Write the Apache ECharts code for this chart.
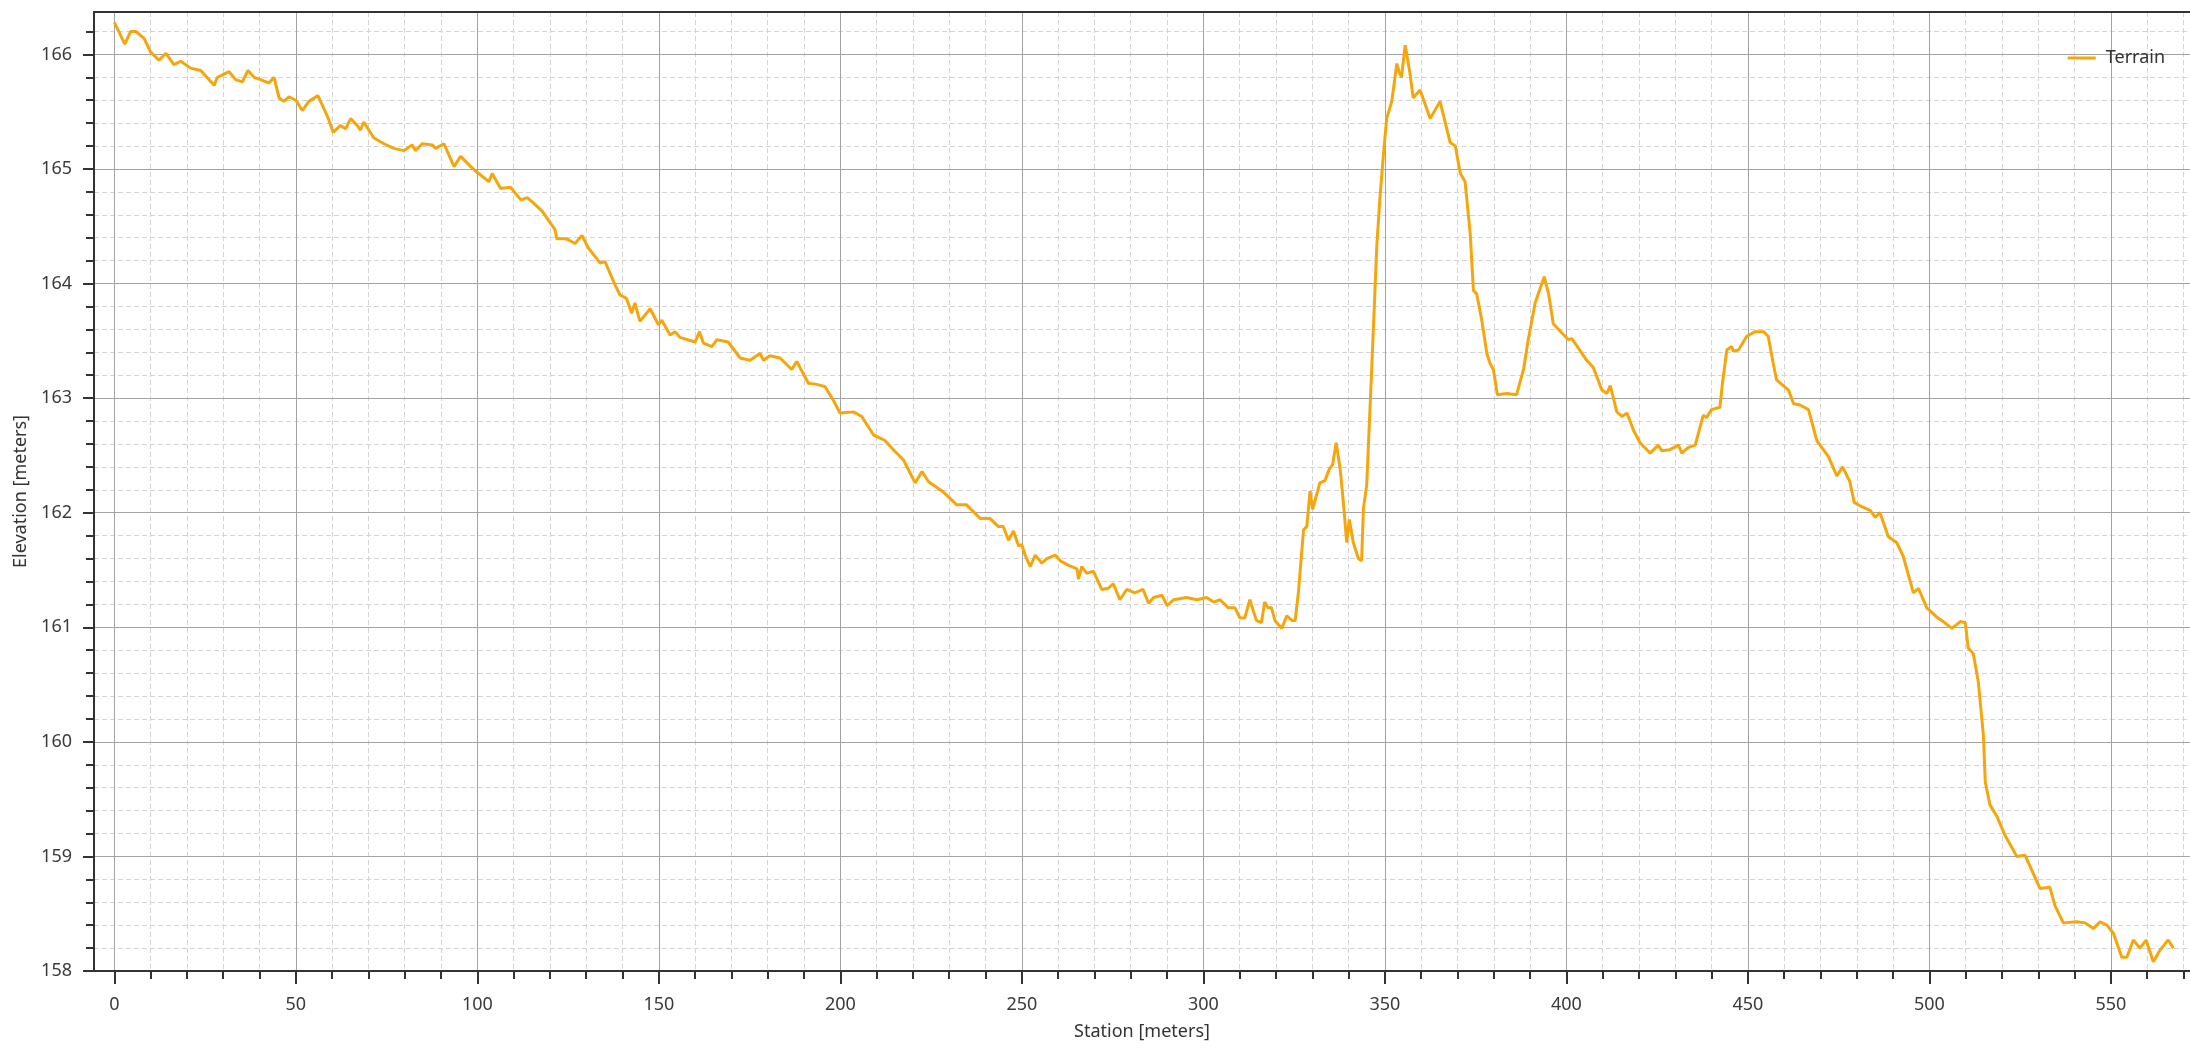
<!DOCTYPE html>
<html><head><meta charset="utf-8">
<script src="https://cdn.jsdelivr.net/npm/echarts@6/dist/echarts.min.js"></script>
<style>html,body{margin:0;padding:0;background:#fff}#c{width:2190px;height:1050px}</style>
</head><body><div id="c"></div>
<script>
const seriesName = 'Terrain';
const xAxisName = 'Station [meters]';
const yAxisName = 'Elevation [meters]';

const stations = [
  0, 2.9, 4.5, 5.9, 8.2, 10, 12.3, 14.2, 16.4, 18.3,
  21, 23.8, 27.5, 28.4, 31.6, 33.4, 35.3, 36.8, 38.5, 40.3,
  42.6, 44, 45.4, 46.7, 48.1, 50, 51.8, 53.6, 56.1, 58.7,
  60.3, 62.3, 63.7, 65.1, 66.9, 67.8, 68.7, 71.5, 74.3, 77,
  79.8, 82, 83, 84.8, 87.6, 88.5, 90.8, 93.6, 95.4, 98.2,
  99.6, 103.2, 104.1, 106.4, 109.1, 112, 113.8, 115.6, 117.9, 121.4,
  121.9, 124.6, 126.9, 128.8, 130.6, 133.8, 135.2, 137.9, 139.3, 141.1,
  142.5, 143.4, 144.8, 147.6, 149.9, 150.8, 153.1, 154.5, 155.8, 160,
  161.2, 162.3, 164.6, 166, 169.1, 172.4, 175.1, 177.9, 178.8, 180.6,
  183.4, 186.6, 188, 191.2, 193.5, 195.8, 198.1, 199.9, 203.6, 205.9,
  209.1, 212.3, 214.6, 217.4, 220.6, 222.5, 224.3, 228.4, 232, 234.7,
  238.5, 241.2, 243.5, 244.9, 246.3, 247.7, 249.1, 250, 250.9, 252.3,
  253.7, 255.5, 256.9, 259.2, 260.6, 262.9, 265.2, 265.6, 266.5, 267.9,
  269.7, 272, 273.8, 275.2, 277, 278.9, 281.1, 283.4, 284.9, 286.3,
  288.6, 290, 291.8, 295.4, 298.2, 300.9, 302.8, 304.6, 306.9, 308.7,
  310.1, 311.4, 312.8, 314.6, 316, 316.9, 317.8, 318.8, 319.7, 321.6,
  323, 324.4, 325.3, 326.2, 327.6, 328.5, 329.4, 330.1, 332.1, 333.5,
  334.7, 335.6, 336.6, 337.7, 338.6, 339.5, 340.2, 341.3, 342.7, 343.6,
  344.1, 345, 346.4, 347.8, 348.7, 349.6, 350.5, 351.9, 353.3, 354,
  354.6, 355.6, 356.9, 357.8, 359.7, 362.5, 365.2, 368, 369.4, 370.8,
  372.1, 373.5, 374.4, 375.3, 376.7, 378.1, 379, 379.9, 381, 383.6,
  386.3, 388.2, 389.5, 391.4, 393.9, 395.1, 396.4, 398.7, 400.6, 401.5,
  402.8, 405.6, 407.4, 409.8, 411.2, 412.1, 413.9, 415.3, 416.7, 418.5,
  420.3, 423.1, 425.3, 426.3, 428.5, 430.9, 431.8, 433.6, 435.5, 437.7,
  438.6, 440, 442.3, 443, 444.2, 445.5, 446, 447.4, 449.7, 452,
  454.3, 455.6, 457, 457.9, 461.2, 462.6, 464.4, 466.7, 469, 472.2,
  474.5, 476.1, 478.1, 479.3, 480.9, 483.7, 485.1, 486.4, 488.7, 491,
  492.8, 495.6, 497, 499.3, 502, 503.8, 506.2, 508.5, 509.9, 510.7,
  512.1, 513.5, 514.9, 515.4, 516.7, 518.6, 520.9, 524.1, 526.4, 528.2,
  530.5, 533.2, 534.6, 536.9, 540.6, 542.9, 545.2, 547, 548.9, 550.7,
  553, 554.4, 556.2, 558, 559.7, 561.7, 563.5, 565.8, 567.2
];

const elevations = [
  166.28, 166.09, 166.20, 166.20, 166.14, 166.02, 165.95, 166.01, 165.91, 165.94,
  165.88, 165.86, 165.73, 165.80, 165.85, 165.78, 165.76, 165.86, 165.80, 165.78,
  165.75, 165.80, 165.62, 165.59, 165.63, 165.60, 165.51, 165.59, 165.64, 165.46,
  165.32, 165.38, 165.35, 165.44, 165.38, 165.34, 165.41, 165.27, 165.22, 165.18,
  165.16, 165.21, 165.16, 165.22, 165.21, 165.18, 165.22, 165.02, 165.11, 165.02,
  164.98, 164.89, 164.96, 164.83, 164.84, 164.73, 164.75, 164.70, 164.63, 164.47,
  164.39, 164.39, 164.35, 164.42, 164.31, 164.18, 164.19, 163.99, 163.90, 163.87,
  163.74, 163.83, 163.67, 163.78, 163.64, 163.68, 163.55, 163.58, 163.53, 163.49,
  163.58, 163.48, 163.45, 163.51, 163.49, 163.35, 163.33, 163.39, 163.33, 163.37,
  163.35, 163.25, 163.32, 163.13, 163.12, 163.10, 162.98, 162.87, 162.88, 162.84,
  162.68, 162.63, 162.55, 162.46, 162.26, 162.36, 162.27, 162.18, 162.07, 162.07,
  161.95, 161.95, 161.88, 161.88, 161.76, 161.84, 161.71, 161.72, 161.63, 161.53,
  161.63, 161.56, 161.60, 161.63, 161.58, 161.54, 161.51, 161.42, 161.53, 161.47,
  161.49, 161.33, 161.34, 161.38, 161.24, 161.33, 161.30, 161.33, 161.21, 161.26,
  161.28, 161.19, 161.24, 161.26, 161.24, 161.26, 161.22, 161.24, 161.17, 161.17,
  161.08, 161.08, 161.24, 161.06, 161.04, 161.22, 161.17, 161.17, 161.06, 160.99,
  161.10, 161.06, 161.06, 161.31, 161.85, 161.88, 162.19, 162.03, 162.26, 162.28,
  162.38, 162.42, 162.61, 162.38, 162.08, 161.74, 161.94, 161.74, 161.60, 161.58,
  162.04, 162.24, 163.27, 164.34, 164.77, 165.12, 165.44, 165.59, 165.92, 165.84,
  165.80, 166.08, 165.84, 165.62, 165.69, 165.44, 165.59, 165.23, 165.20, 164.96,
  164.89, 164.44, 163.94, 163.91, 163.68, 163.39, 163.30, 163.25, 163.03, 163.04,
  163.03, 163.25, 163.51, 163.83, 164.06, 163.91, 163.65, 163.57, 163.51, 163.52,
  163.46, 163.33, 163.27, 163.07, 163.04, 163.11, 162.88, 162.84, 162.87, 162.72,
  162.61, 162.52, 162.59, 162.54, 162.55, 162.59, 162.52, 162.57, 162.59, 162.85,
  162.83, 162.90, 162.92, 163.13, 163.42, 163.45, 163.41, 163.42, 163.54, 163.58,
  163.58, 163.54, 163.30, 163.16, 163.07, 162.95, 162.94, 162.90, 162.63, 162.49,
  162.32, 162.40, 162.27, 162.09, 162.06, 162.02, 161.96, 162.00, 161.79, 161.74,
  161.62, 161.30, 161.34, 161.17, 161.09, 161.05, 160.99, 161.05, 161.04, 160.82,
  160.77, 160.52, 160.05, 159.65, 159.45, 159.35, 159.18, 159.00, 159.01, 158.88,
  158.72, 158.73, 158.57, 158.42, 158.43, 158.42, 158.37, 158.43, 158.40, 158.33,
  158.12, 158.12, 158.27, 158.20, 158.27, 158.08, 158.18, 158.27, 158.20
];

const xMajorTicks = [0, 50, 100, 150, 200, 250, 300, 350, 400, 450, 500, 550];
const xMinorTicks = [10, 20, 30, 40, 60, 70, 80, 90, 110, 120, 130, 140, 160, 170, 180, 190,
  210, 220, 230, 240, 260, 270, 280, 290, 310, 320, 330, 340, 360, 370, 380, 390,
  410, 420, 430, 440, 460, 470, 480, 490, 510, 520, 530, 540, 560, 570];
const yMajorTicks = [158, 159, 160, 161, 162, 163, 164, 165, 166];
const yMinorTicks = [158.2, 158.4, 158.6, 158.8, 159.2, 159.4, 159.6, 159.8,
  160.2, 160.4, 160.6, 160.8, 161.2, 161.4, 161.6, 161.8,
  162.2, 162.4, 162.6, 162.8, 163.2, 163.4, 163.6, 163.8,
  164.2, 164.4, 164.6, 164.8, 165.2, 165.4, 165.6, 165.8, 166.2];

const X_MIN = -5.6, X_MAX = 571.8, Y_MIN = 158, Y_MAX = 166.37;

const FONT = '"Noto Sans", "Open Sans", sans-serif';
const AXIS_COLOR = '#333333';
const LINE_COLOR = '#F5A60C';

const data = stations.map((s, i) => [s, elevations[i]]);

const chart = echarts.init(document.getElementById('c'), null, {renderer: 'canvas'});
chart.setOption({
  animation: false,
  backgroundColor: '#ffffff',
  textStyle: {fontFamily: FONT},
  grid: {left: 94, top: 12, right: 0, bottom: 79, containLabel: false},
  legend: {
    show: true,
    right: 20, top: 44,
    icon: 'rect', itemWidth: 28, itemHeight: 3,
    textStyle: {fontSize: 18, color: '#333', fontFamily: FONT, padding: [0, 0, 0, 5]},
    data: [seriesName]
  },
  xAxis: [
    {
      type: 'value', position: 'bottom', min: X_MIN, max: X_MAX,
      name: xAxisName, nameLocation: 'middle', nameGap: 52,
      nameTextStyle: {fontSize: 18, color: '#333', fontFamily: FONT},
      axisLine: {show: true, onZero: false, lineStyle: {color: AXIS_COLOR, width: 2}},
      axisTick: {show: true, inside: false, length: 13, customValues: xMajorTicks, lineStyle: {color: AXIS_COLOR, width: 2}},
      axisLabel: {show: true, margin: 25, fontSize: 18, color: '#3a3a3a', fontFamily: FONT, customValues: xMajorTicks},
      splitLine: {show: true, lineStyle: {color: '#a3a3a3', width: 1, type: 'solid'}},
      z: 3
    },
    {
      type: 'value', position: 'bottom', min: X_MIN, max: X_MAX,
      axisLine: {show: false, onZero: false},
      axisTick: {show: true, inside: false, length: 8, customValues: xMinorTicks, lineStyle: {color: AXIS_COLOR, width: 2}},
      axisLabel: {show: false},
      splitLine: {show: true, lineStyle: {color: '#d3d3d3', width: 1, type: [5, 3]}},
      z: 2
    },
    {
      type: 'value', position: 'top', min: X_MIN, max: X_MAX,
      axisLine: {show: true, onZero: false, lineStyle: {color: AXIS_COLOR, width: 2}},
      axisTick: {show: false}, axisLabel: {show: false}, splitLine: {show: false},
      z: 3
    }
  ],
  yAxis: [
    {
      type: 'value', position: 'left', min: Y_MIN, max: Y_MAX,
      name: yAxisName, nameLocation: 'middle', nameGap: 58, nameRotate: 90,
      nameTextStyle: {fontSize: 18, color: '#333', fontFamily: FONT},
      axisLine: {show: true, onZero: false, lineStyle: {color: AXIS_COLOR, width: 2}},
      axisTick: {show: true, inside: false, length: 11, customValues: yMajorTicks, lineStyle: {color: AXIS_COLOR, width: 2}},
      axisLabel: {show: true, margin: 22, fontSize: 18, color: '#3a3a3a', fontFamily: FONT, customValues: yMajorTicks},
      splitLine: {show: true, lineStyle: {color: '#a3a3a3', width: 1, type: 'solid'}},
      z: 3
    },
    {
      type: 'value', position: 'left', min: Y_MIN, max: Y_MAX,
      axisLine: {show: false, onZero: false},
      axisTick: {show: true, inside: false, length: 8, customValues: yMinorTicks, lineStyle: {color: AXIS_COLOR, width: 2}},
      axisLabel: {show: false},
      splitLine: {show: true, lineStyle: {color: '#d3d3d3', width: 1, type: [5, 3]}},
      z: 2
    }
  ],
  series: [{
    name: seriesName,
    type: 'line',
    xAxisIndex: 0, yAxisIndex: 0,
    data: data,
    showSymbol: false,
    symbol: 'none',
    smooth: false,
    color: LINE_COLOR,
    lineStyle: {color: LINE_COLOR, width: 3},
    z: 5
  }]
});
</script>
</body></html>
